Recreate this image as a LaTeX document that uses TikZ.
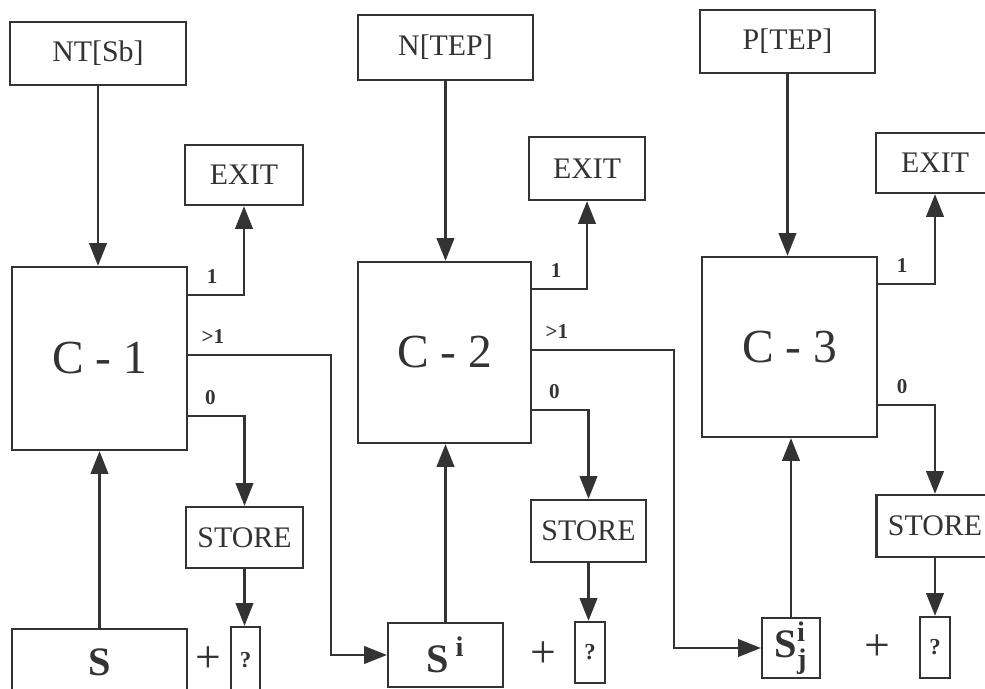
\documentclass[tikz,border=0pt]{standalone}
\usepackage{fontspec}
\setmainfont{Liberation Serif}
\usepackage{amsmath}
\usetikzlibrary{arrows.meta,positioning}

\tikzset{boxsize/.style 2 args={minimum width=#1*0.02cm, minimum height=#2*0.02cm}}

\begin{document}
\begin{tikzpicture}[
    x=0.02cm, y=-0.02cm,
    color=black!80,
    line width=1.3pt,
    box/.style={draw, rectangle, inner sep=0pt, font=\fontsize{17}{19}\selectfont},
    cbox/.style={box, font=\fontsize{27}{30}\selectfont},
    sbox/.style={box, font=\bfseries\fontsize{23}{25}\selectfont},
    qbox/.style={box, font=\bfseries\fontsize{13}{14}\selectfont},
    lbl/.style={anchor=south west, inner sep=0pt, font=\bfseries\fontsize{12}{13}\selectfont},
    plus/.style={inner sep=0pt, font=\fontsize{26}{28}\selectfont},
    arr/.style={-{Triangle[length=13pt, width=10pt]}}
]
\useasboundingbox (0,0) rectangle (985,689);

% first stage
\node[box, boxsize={176}{63}] (top1) at (98,53.5) {NT[Sb]};
\node[box, boxsize={118}{60}] (exit1) at (244,175) {EXIT};
\node[cbox, boxsize={175}{183}] (c1) at (99.5,358.5) {C - 1};
\node[box, boxsize={117}{61}] (store1) at (244.5,537.5) {STORE};
\node[sbox, boxsize={175}{66}] (s1) at (99.5,662) {S};
\node[plus] (p1) at (208,660) {+};
\node[qbox, boxsize={29}{66}] (q1) at (245.5,660) {?};

% second stage
\node[box, boxsize={175}{65}] (top2) at (445.5,47.5) {N[TEP]};
\node[box, boxsize={116}{63}] (exit2) at (587,168.5) {EXIT};
\node[cbox, boxsize={173}{181}] (c2) at (444.5,352.5) {C - 2};
\node[box, boxsize={115}{62}] (store2) at (588.5,531) {STORE};
\node[sbox, boxsize={115}{64}] (s2) at (445.5,655) {S\,$^{\textbf{i}}$};
\node[plus] (p2) at (543,655) {+};
\node[qbox, boxsize={30}{61}] (q2) at (590,652.5) {?};

% third stage
\node[box, boxsize={175}{63}] (top3) at (787.5,41.5) {P[TEP]};
\node[box, boxsize={118}{60}] (exit3) at (935,163) {EXIT};
\node[cbox, boxsize={175}{180}] (c3) at (789.5,347) {C - 3};
\node[box, boxsize={117}{62}] (store3) at (935,526) {STORE};
\node[sbox, boxsize={58}{60}] (s3) at (791,648) {S$^{\textbf{i}}_{\textbf{j}}$};
\node[plus] (p3) at (877,648) {+};
\node[qbox, boxsize={30}{61}] (q3) at (935,647.5) {?};

\coordinate (k1) at (331,0);
\coordinate (k2) at (674,0);

% inputs
\draw[arr] (top1.south) -- (top1.south |- c1.north);
\draw[arr] (top2.south) -- (top2.south |- c2.north);
\draw[arr] (top3.south) -- (top3.south |- c3.north);
\draw[arr] (s1.north) -- (s1.north |- c1.south);
\draw[arr] (s2.north) -- (s2.north |- c2.south);
\draw[arr] (s3.north) -- (s3.north |- c3.south);

% outputs
\draw[arr] (c1.east |- 0,295) node[lbl, above right=6pt and 10pt] {1} -| (exit1.south);
\draw[arr] (c1.east |- 0,355) node[lbl, above right=6pt and 7pt] {>1} -| (k1 |- s2.west) -- (s2.west);
\draw[arr] (c1.east |- 0,416) node[lbl, above right=6pt and 9pt] {0} -| (store1.north);
\draw[arr] (store1.south) -- (store1.south |- q1.north);

\draw[arr] (c2.east |- 0,289) node[lbl, above right=6pt and 10pt] {1} -| (exit2.south);
\draw[arr] (c2.east |- 0,350) node[lbl, above right=6pt and 7pt] {>1} -| (k2 |- s3.west) -- (s3.west);
\draw[arr] (c2.east |- 0,410) node[lbl, above right=6pt and 9pt] {0} -| (store2.north);
\draw[arr] (store2.south) -- (store2.south |- q2.north);

\draw[arr] (c3.east |- 0,284) node[lbl, above right=6pt and 10pt] {1} -| (exit3.south);
\draw[arr] (c3.east |- 0,405) node[lbl, above right=6pt and 10pt] {0} -| (store3.north);
\draw[arr] (store3.south) -- (store3.south |- q3.north);

\end{tikzpicture}
\end{document}
